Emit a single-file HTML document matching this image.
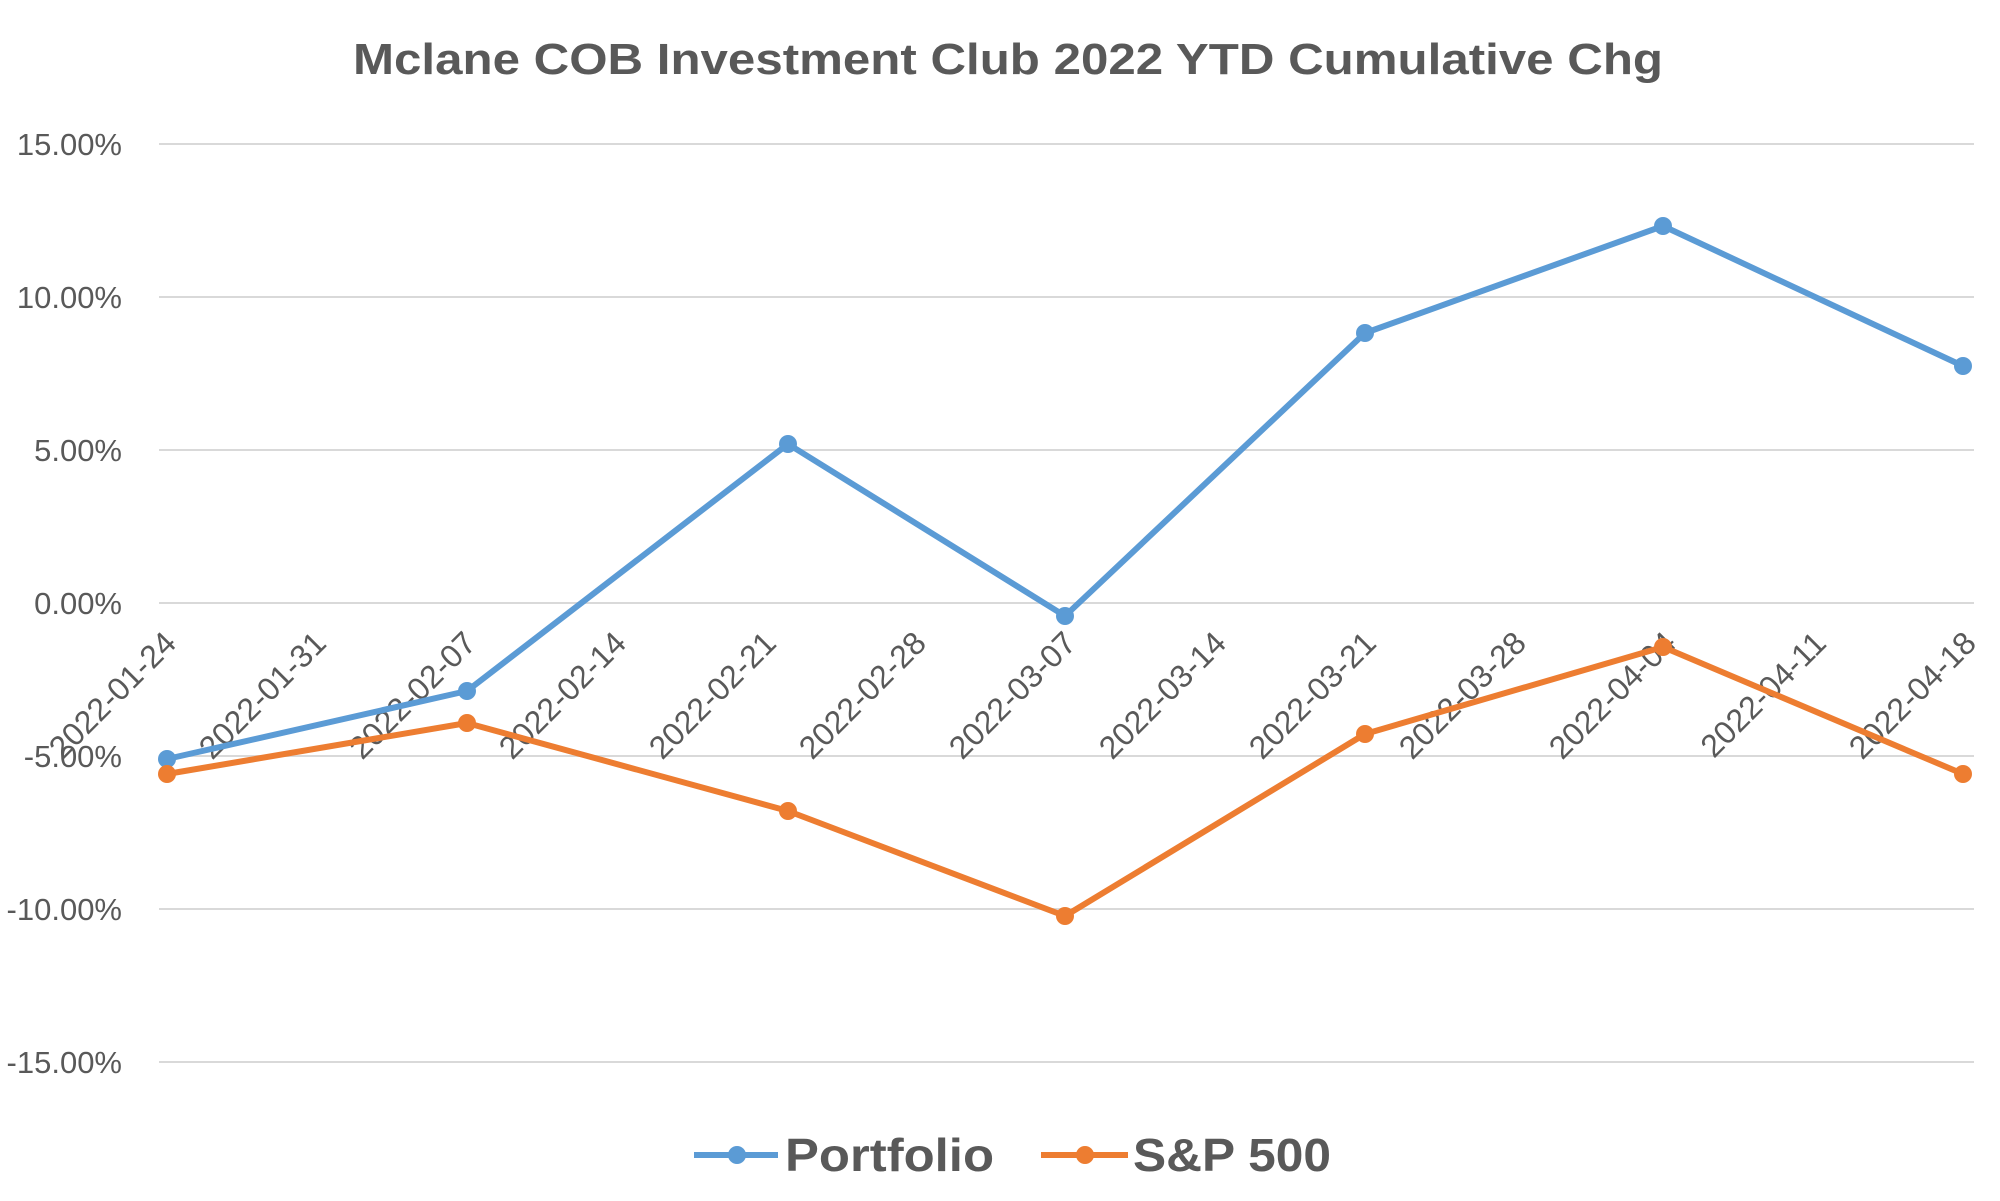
<!DOCTYPE html>
<html><head><meta charset="utf-8"><style>html,body{margin:0;padding:0;background:#fff;}svg{display:block}</style></head>
<body>
<svg width="2000" height="1201" viewBox="0 0 2000 1201" xmlns="http://www.w3.org/2000/svg" font-family="Liberation Sans, sans-serif">
<rect width="2000" height="1201" fill="#fff"/>
<text x="1008" y="74" text-anchor="middle" font-size="44" font-weight="bold" fill="#595959" textLength="1310" lengthAdjust="spacingAndGlyphs">Mclane COB Investment Club 2022 YTD Cumulative Chg</text>
<g stroke="#d9d9d9" stroke-width="2">
<line x1="159" x2="1974" y1="144" y2="144"/><line x1="159" x2="1974" y1="297" y2="297"/>
<line x1="159" x2="1974" y1="450" y2="450"/><line x1="159" x2="1974" y1="603" y2="603"/>
<line x1="159" x2="1974" y1="756" y2="756"/><line x1="159" x2="1974" y1="909" y2="909"/>
<line x1="159" x2="1974" y1="1062" y2="1062"/>
</g>
<g font-size="31" fill="#595959" text-anchor="end">
<text x="122" y="155">15.00%</text><text x="122" y="308">10.00%</text><text x="122" y="461">5.00%</text>
<text x="122" y="614">0.00%</text><text x="122" y="767">-5.00%</text><text x="122" y="920">-10.00%</text><text x="122" y="1073">-15.00%</text>
</g>
<g font-size="32" fill="#595959" text-anchor="end">
<text transform="translate(178,645) rotate(-45)">2022-01-24</text>
<text transform="translate(328,645) rotate(-45)">2022-01-31</text>
<text transform="translate(478,645) rotate(-45)">2022-02-07</text>
<text transform="translate(628,645) rotate(-45)">2022-02-14</text>
<text transform="translate(778,645) rotate(-45)">2022-02-21</text>
<text transform="translate(928,645) rotate(-45)">2022-02-28</text>
<text transform="translate(1078,645) rotate(-45)">2022-03-07</text>
<text transform="translate(1228,645) rotate(-45)">2022-03-14</text>
<text transform="translate(1378,645) rotate(-45)">2022-03-21</text>
<text transform="translate(1528,645) rotate(-45)">2022-03-28</text>
<text transform="translate(1678,645) rotate(-45)">2022-04-04</text>
<text transform="translate(1828,645) rotate(-45)">2022-04-11</text>
<text transform="translate(1978,645) rotate(-45)">2022-04-18</text>
</g>
<polyline fill="none" stroke="#5b9bd5" stroke-width="6" stroke-linejoin="round" points="167,759 467,691 788,444 1065,616 1365,333 1663,226 1963,366"/>
<g fill="#5b9bd5"><circle cx="167" cy="759" r="9"/><circle cx="467" cy="691" r="9"/><circle cx="788" cy="444" r="9"/><circle cx="1065" cy="616" r="9"/><circle cx="1365" cy="333" r="9"/><circle cx="1663" cy="226" r="9"/><circle cx="1963" cy="366" r="9"/></g>
<polyline fill="none" stroke="#ed7d31" stroke-width="6" stroke-linejoin="round" points="167,774 467,723 788,811 1065,916 1365,734 1663,647 1963,774"/>
<g fill="#ed7d31"><circle cx="167" cy="774" r="9"/><circle cx="467" cy="723" r="9"/><circle cx="788" cy="811" r="9"/><circle cx="1065" cy="916" r="9"/><circle cx="1365" cy="734" r="9"/><circle cx="1663" cy="647" r="9"/><circle cx="1963" cy="774" r="9"/></g>
<line x1="694" x2="778" y1="1155" y2="1155" stroke="#5b9bd5" stroke-width="6"/><circle cx="737" cy="1155" r="9" fill="#5b9bd5"/>
<text x="785" y="1171" font-size="46" font-weight="bold" fill="#595959" textLength="209" lengthAdjust="spacingAndGlyphs">Portfolio</text>
<line x1="1041" x2="1128" y1="1155" y2="1155" stroke="#ed7d31" stroke-width="6"/><circle cx="1085" cy="1155" r="9" fill="#ed7d31"/>
<text x="1133" y="1171" font-size="46" font-weight="bold" fill="#595959" textLength="198" lengthAdjust="spacingAndGlyphs">S&amp;P 500</text>
</svg>
</body></html>
